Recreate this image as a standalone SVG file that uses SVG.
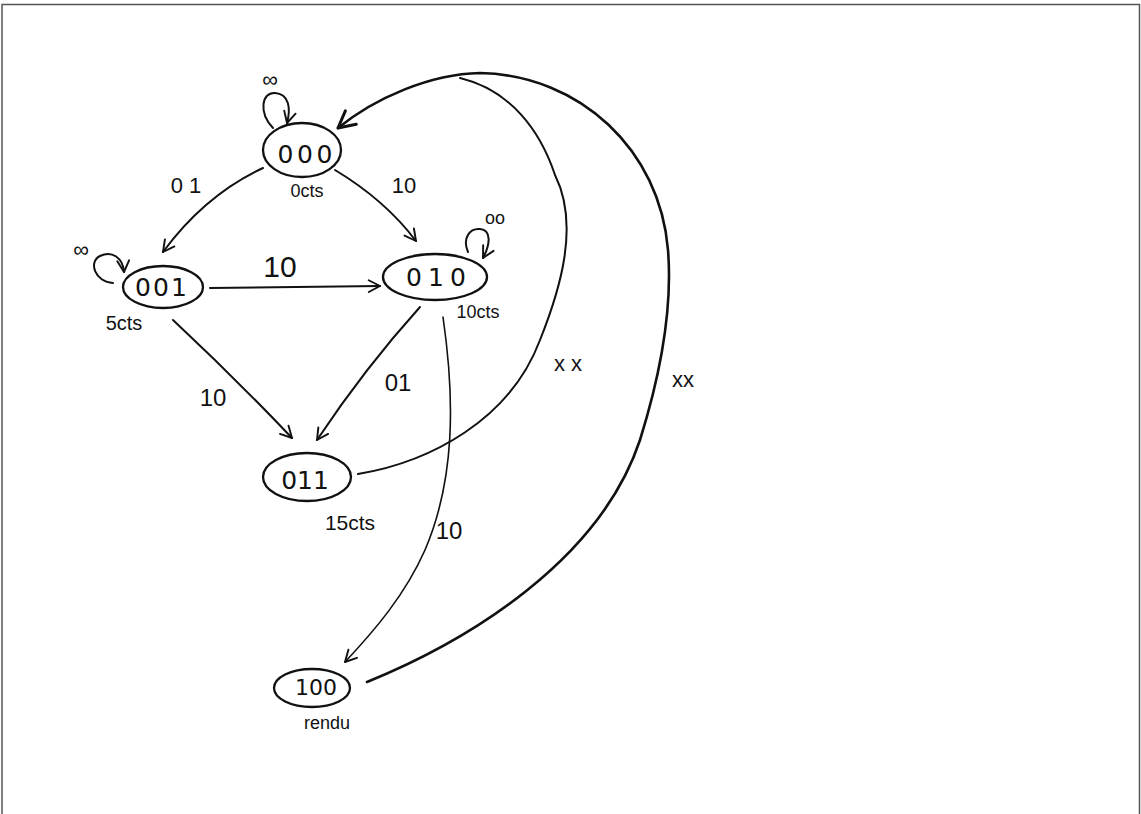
<svg xmlns="http://www.w3.org/2000/svg" width="1141" height="814" viewBox="0 0 1141 814">
  <defs>
    <marker id="arr" viewBox="0 0 14 14" refX="12" refY="7" markerWidth="15" markerHeight="15" markerUnits="userSpaceOnUse" orient="auto">
      <path d="M1.5,1.5 L12,7 L1.5,12.5" fill="none" stroke="#111" stroke-width="1.8" stroke-linecap="round" stroke-linejoin="round"/>
    </marker>
    <marker id="arrBig" viewBox="0 0 14 14" refX="12" refY="7" markerWidth="22" markerHeight="22" markerUnits="userSpaceOnUse" orient="auto">
      <path d="M1.5,1.5 L12,7 L1.5,12.5" fill="none" stroke="#111" stroke-width="1.9" stroke-linecap="round" stroke-linejoin="round"/>
    </marker>
  </defs>
  <style>
    .node ellipse { fill: none; stroke: #111; stroke-width: 2.3; }
    .node text.id { font-family: "DejaVu Sans", "Liberation Sans", sans-serif; font-size: 25px; fill: #111; text-anchor: middle; }
    .node text.sub { font-family: "Liberation Sans", Arial, sans-serif; font-size: 18px; fill: #111; text-anchor: middle; }
    .edge { fill: none; stroke: #111; stroke-width: 2; stroke-linecap: round; }
    .thin { stroke-width: 1.6; }
    .thick { stroke-width: 2.6; }
    .lbl { font-family: "Liberation Sans", Arial, sans-serif; font-size: 22px; fill: #111; text-anchor: middle; }
  </style>
  <rect width="1141" height="814" fill="#fff"/>
  <path d="M2,814 L2,4.5 L1139.5,4.5 L1139.5,814" fill="none" stroke="#555" stroke-width="1.5"/>

  <g id="connectors">
    <!-- self loops -->
    <path class="edge" d="M273,128 C 258,112 262,92 275,93 C 289,94 291,108 287,123" marker-end="url(#arr)"/>
    <path class="edge" d="M113,283 C 95,282 88,262 100,256 C 112,250 123,258 124,272" marker-end="url(#arr)"/>
    <path class="edge" d="M468,252 C 462,238 470,228 480,229 C 492,230 490,245 483,258" marker-end="url(#arr)"/>
    <!-- 000 -> 001 -->
    <path class="edge" d="M263,168 Q 205,195 163,252" marker-end="url(#arr)"/>
    <!-- 000 -> 010 -->
    <path class="edge" d="M335,170 Q 385,200 416,241" marker-end="url(#arr)"/>
    <!-- 001 -> 010 -->
    <path class="edge" d="M210,288 L380,286" marker-end="url(#arr)"/>
    <!-- 001 -> 011 -->
    <path class="edge" d="M173,320 Q 235,378 292,438" marker-end="url(#arr)"/>
    <!-- 010 -> 011 -->
    <path class="edge" d="M420,307 Q 365,368 317,440" marker-end="url(#arr)"/>
    <!-- 010 -> 100 -->
    <path class="edge thin" d="M443,317 C 455,400 455,480 425,550 C 405,595 375,630 345,662" marker-end="url(#arr)"/>
    <!-- 011 -> 000 (inner arc) -->
    <path class="edge" d="M358,474 C 430,462 510,420 540,340 C 560,290 580,225 555,175 C 540,130 510,90 460,78"/>
    <!-- 100 -> 000 (outer arc) -->
    <path class="edge thick" d="M367,682 C 470,640 600,560 640,440 C 665,360 672,300 668,250 C 660,150 580,75 480,73 C 430,74 375,98 338,128" marker-end="url(#arrBig)"/>
  </g>

  <g id="node-000" class="node">
    <ellipse cx="302" cy="150" rx="39" ry="27"/>
    <text class="id" x="305" y="163" textLength="55" lengthAdjust="spacing">000</text>
    <text class="sub" x="307" y="197">0cts</text>
  </g>
  <g id="node-001" class="node">
    <ellipse cx="163" cy="287" rx="40" ry="21"/>
    <text class="id" x="161" y="296" textLength="52" lengthAdjust="spacing">001</text>
    <text class="sub" x="124" y="330" style="font-size:20px">5cts</text>
  </g>
  <g id="node-010" class="node">
    <ellipse cx="435" cy="277" rx="52" ry="23"/>
    <text class="id" x="436" y="286" textLength="60" lengthAdjust="spacing">010</text>
    <text class="sub" x="478" y="318">10cts</text>
  </g>
  <g id="node-011" class="node">
    <ellipse cx="307" cy="477" rx="44" ry="24"/>
    <text class="id" x="305" y="489">011</text>
    <text class="sub" x="350" y="530" style="font-size:21px">15cts</text>
  </g>
  <g id="node-100" class="node">
    <ellipse cx="312" cy="688" rx="38" ry="19"/>
    <text class="id" x="316" y="695" style="font-size:22px">100</text>
    <text class="sub" x="327" y="729">rendu</text>
  </g>

  <g id="labels">
    <text class="lbl" x="270" y="87" style="font-size:22px">∞</text>
    <text class="lbl" x="81" y="257" style="font-size:22px">∞</text>
    <text class="lbl" x="495" y="224" style="font-size:18px">oo</text>
    <text class="lbl" x="186" y="193">0 1</text>
    <text class="lbl" x="404" y="193">10</text>
    <text class="lbl" x="280" y="277" style="font-size:30px">10</text>
    <text class="lbl" x="213" y="406" style="font-size:24px">10</text>
    <text class="lbl" x="398" y="391" style="font-size:24px">01</text>
    <text class="lbl" x="449" y="539" style="font-size:24px">10</text>
    <text class="lbl" x="568" y="371" style="font-size:22px">x x</text>
    <text class="lbl" x="683" y="387" style="font-size:22px">xx</text>
  </g>
</svg>
